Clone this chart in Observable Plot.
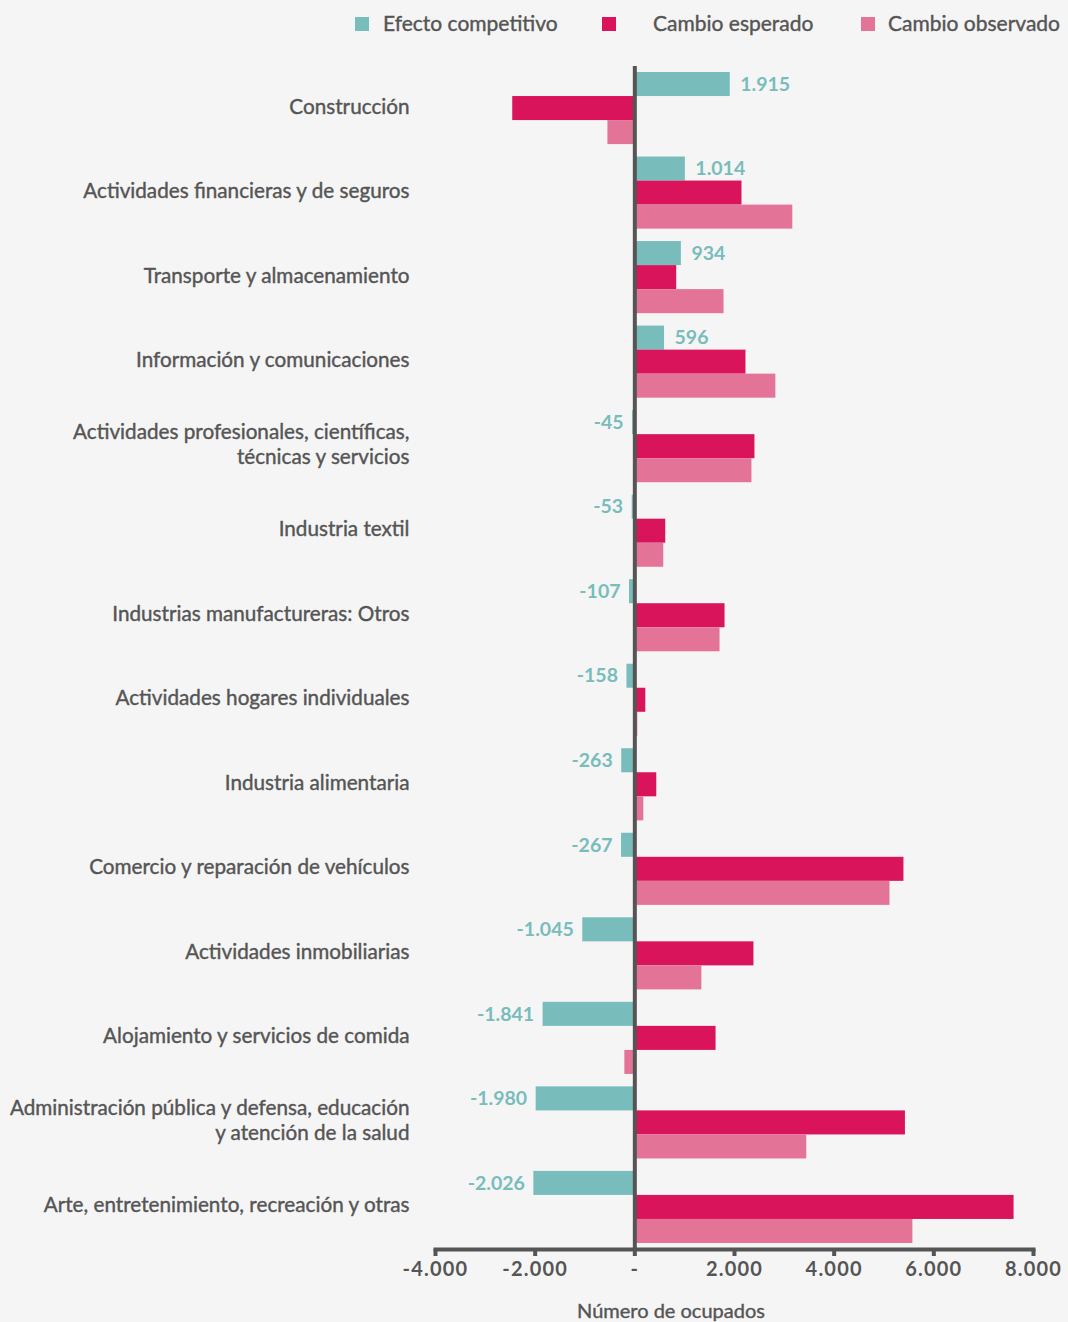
<!DOCTYPE html>
<html><head><meta charset="utf-8">
<script src="https://cdn.jsdelivr.net/npm/d3@7"></script>
<script src="https://cdn.jsdelivr.net/npm/@observablehq/plot@0.6"></script>
<style>
html,body{margin:0;padding:0;background:#f5f5f5;}
#wrap{position:relative;width:1068px;height:1322px;overflow:hidden;font-family:Lato,sans-serif;color:#555;}
#legend{position:relative;height:48px;}
.sw{position:absolute;top:17px;width:14px;height:14px;}
.lt{position:absolute;top:9px;font-size:21px;line-height:28px;white-space:nowrap;color:#555;-webkit-text-stroke:0.4px #555;}
#chart svg{display:block;}
#chart g[aria-label="x-axis tick label"] text{letter-spacing:1.2px;}
#caption{position:absolute;left:671px;top:1298px;transform:translateX(-50%);font-size:20px;line-height:24px;white-space:nowrap;color:#555;-webkit-text-stroke:0.4px #555;}
</style></head><body>
<div id="wrap">
  <div id="legend"></div>
  <div id="chart"></div>
  <div id="caption">Número de ocupados</div>
</div>
<script>
const categories = [
  "Construcción",
  "Actividades financieras y de seguros",
  "Transporte y almacenamiento",
  "Información y comunicaciones",
  "Actividades profesionales, científicas,\ntécnicas y servicios",
  "Industria textil",
  "Industrias manufactureras: Otros",
  "Actividades hogares individuales",
  "Industria alimentaria",
  "Comercio y reparación de vehículos",
  "Actividades inmobiliarias",
  "Alojamiento y servicios de comida",
  "Administración pública y defensa, educación\ny atención de la salud",
  "Arte, entretenimiento, recreación y otras"
];
const efectoCompetitivo = [1915, 1014, 934, 596, -45, -53, -107, -158, -263, -267, -1045, -1841, -1980, -2026];
const cambioEsperado   = [-2450, 2150, 840, 2230, 2410, 620, 1810, 220, 440, 5400, 2390, 1630, 5430, 7610];
const cambioObservado  = [-540, 3170, 1790, 2830, 2350, 580, 1710, 60, 180, 5120, 1345, -200, 3450, 5580];
const seriesNames = ["Efecto competitivo", "Cambio esperado", "Cambio observado"];
const seriesColors = ["#78bdbb", "#d9145a", "#e37498"];
const xTicks = [-4000, -2000, 0, 2000, 4000, 6000, 8000];

const rows = categories.map((cat, i) => ({
  cat, comp: efectoCompetitivo[i], esp: cambioEsperado[i], obs: cambioObservado[i]
}));

const fmt = d3.formatLocale({decimal: ",", thousands: ".", grouping: [3], currency: ["", ""], minus: "-"}).format(",d");

// legend
const legendPos = [[355, 383], [602, 653], [861, 888]];
const legend = document.getElementById("legend");
seriesNames.forEach((name, i) => {
  const s = document.createElement("div");
  s.className = "sw"; s.style.left = legendPos[i][0] + "px"; s.style.background = seriesColors[i];
  legend.appendChild(s);
  const t = document.createElement("div");
  t.className = "lt"; t.style.left = legendPos[i][1] + "px"; t.textContent = name;
  legend.appendChild(t);
});

const W = 1068, H = 1240;
function build(bw) {
  const t = bw / 3;
  return Plot.plot({
    width: W, height: H,
    marginLeft: 435, marginRight: 35, marginTop: 18, marginBottom: 39,
    style: {background: "transparent", fontFamily: "Lato, sans-serif", color: "#555", overflow: "visible"},
    x: {domain: [-4000, 8000], label: null},
    y: {domain: categories, paddingInner: 0.147, paddingOuter: 0.071, round: false, axis: null},
    marks: [
      Plot.barX(rows, {y: "cat", x: "comp", fill: seriesColors[0], insetTop: 0, insetBottom: 2 * t}),
      Plot.barX(rows, {y: "cat", x: "esp", fill: seriesColors[1], insetTop: t, insetBottom: t}),
      Plot.barX(rows, {y: "cat", x: "obs", fill: seriesColors[2], insetTop: 2 * t, insetBottom: 0}),
      Plot.ruleX([0], {stroke: "#555", strokeWidth: 4}),
      Plot.frame({anchor: "bottom", stroke: "#555", strokeWidth: 4}),
      Plot.axisX({ticks: xTicks, tickFormat: d => d === 0 ? "-" : fmt(d), tickSize: 7, strokeWidth: 4, stroke: "#555",
        tickPadding: 5, fontSize: 20, fontWeight: "bold", fill: "#555", label: null}),
      Plot.text(rows, {y: "cat", text: "cat", frameAnchor: "left", textAnchor: "end", dx: -26, dy: -3,
        lineHeight: 1.2, fontSize: 20.7, fill: "#555", stroke: "#555", strokeWidth: 0.4}),
      Plot.text(rows, {filter: d => d.comp >= 0, x: "comp", y: "cat", text: d => fmt(d.comp), dy: -t, dx: 10,
        textAnchor: "start", fontSize: 19.5, fontWeight: "bold", fill: seriesColors[0]}),
      Plot.text(rows, {filter: d => d.comp < 0, x: "comp", y: "cat", text: d => fmt(d.comp), dy: -t, dx: -9,
        textAnchor: "end", fontSize: 19.5, fontWeight: "bold", fill: seriesColors[0]})
    ]
  });
}
const probe = build(72);
const bw = probe.scale("y").bandwidth;
document.getElementById("chart").appendChild(build(bw));
</script>
</body></html>
